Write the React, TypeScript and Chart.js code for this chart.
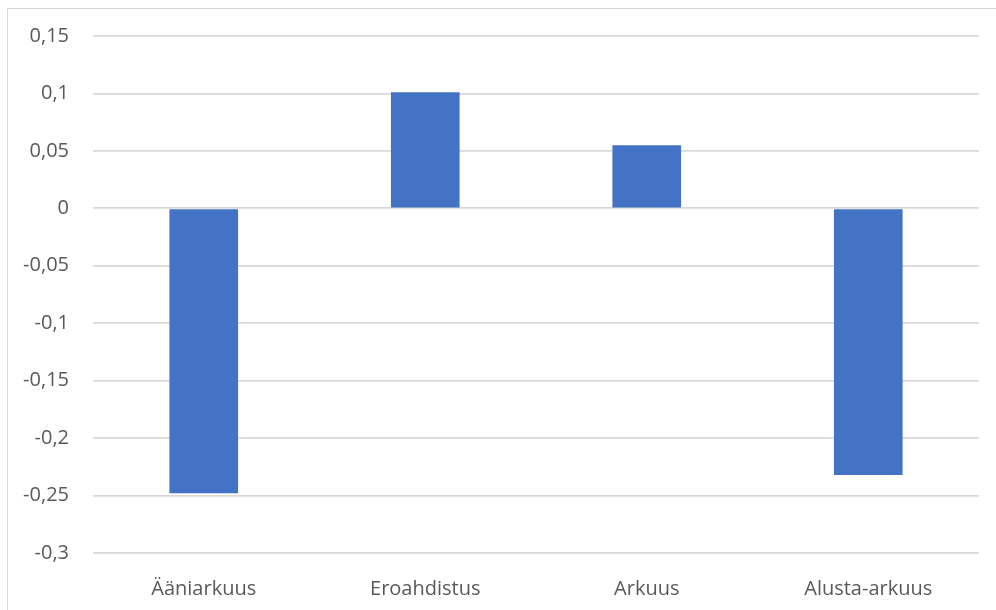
import React, { useEffect, useRef } from "react";
import { Chart, registerables } from "chart.js";

Chart.register(...registerables);

const categories = ["Ääniarkuus", "Eroahdistus", "Arkuus", "Alusta-arkuus"];
const values = [-0.248, 0.101, 0.055, -0.232];
const yMin = -0.3;
const yMax = 0.15;
const yStep = 0.05;

const fmt = (v: number) => {
  const r = Math.round(v * 100) / 100;
  return String(r).replace(".", ",");
};

export default function App() {
  const ref = useRef<HTMLCanvasElement | null>(null);

  useEffect(() => {
    document.body.style.margin = "0";
    document.body.style.overflow = "hidden";
    if (!ref.current) return;
    const chart = new Chart(ref.current, {
      type: "bar",
      data: {
        labels: categories,
        datasets: [
          {
            data: values,
            backgroundColor: "#4472c4",
            borderWidth: 0,
            categoryPercentage: 1,
            barPercentage: 0.31,
          },
        ],
      },
      options: {
        animation: false,
        responsive: false,
        maintainAspectRatio: false,
        devicePixelRatio: 1,
        layout: { padding: { top: 36, right: 17, left: 0, bottom: 0 } },
        plugins: { legend: { display: false }, tooltip: { enabled: false } },
        scales: {
          x: {
            grid: { display: false, drawTicks: false },
            border: { display: false },
            ticks: {
              color: "#595959",
              font: { family: "Open Sans", size: 20 },
              padding: 24,
              maxRotation: 0,
            },
            afterFit: (s: any) => {
              s.height = 57;
            },
          },
          y: {
            min: yMin,
            max: yMax,
            grid: { color: "#d9d9d9", lineWidth: 1.75, drawTicks: false },
            border: { display: false },
            ticks: {
              stepSize: yStep,
              color: "#595959",
              font: { family: "Open Sans", size: 20 },
              padding: 24,
              callback: (v: any) => fmt(Number(v)),
            },
            afterFit: (s: any) => {
              s.width = 93;
            },
          },
        },
      },
    });
    return () => chart.destroy();
  }, []);

  return (
    <div style={{ position: "relative", width: 996, height: 610, overflow: "hidden", background: "#fff" }}>
      <div
        style={{
          position: "absolute",
          left: 7,
          top: 8,
          width: 1100,
          height: 700,
          border: "1.5px solid #d9d9d9",
          boxSizing: "border-box",
        }}
      />
      <canvas ref={ref} width={996} height={610} style={{ position: "absolute", left: 0, top: 0, width: 996, height: 610 }} />
    </div>
  );
}
